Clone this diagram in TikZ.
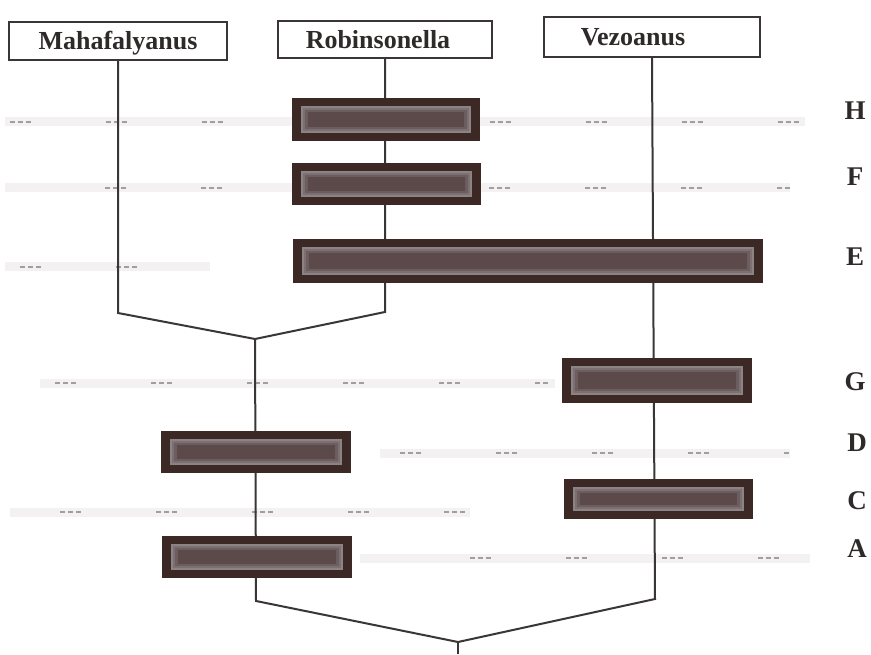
\documentclass[tikz,border=0pt]{standalone}
\usepackage{fontspec}
\setmainfont{Liberation Serif}
\definecolor{linec}{HTML}{3A3636}
\definecolor{textc}{HTML}{2E2A2A}
\definecolor{barout}{HTML}{3C2926}
\definecolor{barl1}{HTML}{8C8385}
\definecolor{barl2}{HTML}{7C7072}
\definecolor{barl3}{HTML}{6C5D5E}
\definecolor{barl4}{HTML}{5C4949}
\definecolor{rowc}{HTML}{A09E9E}
\definecolor{bandc}{HTML}{F3F1F1}
\begin{document}
\begin{tikzpicture}[x=1pt,y=-1pt,
  ln/.style={draw=linec,line width=2pt,line join=miter},
  taxon/.style={draw=linec,line width=2.2pt,fill=white,inner sep=0},
  ttext/.style={font=\fontsize{26}{28}\selectfont\bfseries,text=textc,inner sep=0,anchor=base},
  lvl/.style={font=\fontsize{27}{30}\selectfont\bfseries,text=textc,inner sep=0,anchor=base},
  row/.style={draw=rowc,line width=1.6pt,dash pattern=on 5pt off 3pt on 5pt off 3pt on 5pt off 75pt},
  band/.style={draw=bandc,line width=9pt},
  inset/.style args={#1/#2/#3}{insert path={
      \pgfextra{\fill[#3] ([xshift=#1,yshift=-#2]path picture bounding box.north west)
        rectangle ([xshift=-#1,yshift=#2]path picture bounding box.south east);}}},
  ratebar/.style={fill=barout,inner sep=0,
    path picture={
      \fill[barl1] ([xshift=9pt,yshift=-8pt]path picture bounding box.north west)
        rectangle ([xshift=-9pt,yshift=8pt]path picture bounding box.south east);
      \fill[barl2] ([xshift=11pt,yshift=-10pt]path picture bounding box.north west)
        rectangle ([xshift=-11pt,yshift=10pt]path picture bounding box.south east);
      \fill[barl3] ([xshift=13pt,yshift=-12pt]path picture bounding box.north west)
        rectangle ([xshift=-13pt,yshift=12pt]path picture bounding box.south east);
      \fill[barl4] ([xshift=16pt,yshift=-14pt]path picture bounding box.north west)
        rectangle ([xshift=-16pt,yshift=14pt]path picture bounding box.south east);
    }},
]
\useasboundingbox[fill=white] (0,0) rectangle (871,655);

% faint level rows
\draw[band] (5,122) -- (805,122);
\draw[row]  (10,122) -- (805,122);
\draw[band] (5,188) -- (790,188);
\draw[row]  (105,188) -- (790,188);
\draw[band] (5,267) -- (210,267);
\draw[row]  (20,267) -- (200,267);
\draw[band] (40,383) -- (555,383);
\draw[row]  (55,383) -- (550,383);
\draw[band] (380,453) -- (790,453);
\draw[row]  (400,453) -- (790,453);
\draw[band] (10,512) -- (470,512);
\draw[row]  (60,512) -- (470,512);
\draw[band] (360,558) -- (810,558);
\draw[row]  (470,558) -- (810,558);

% taxon boxes
\node[taxon,minimum width=218pt,minimum height=38pt] (maha)  at (118,41) {};
\node[taxon,minimum width=214pt,minimum height=37pt] (robin) at (385,39.5) {};
\node[taxon,minimum width=216pt,minimum height=40pt] (vezo)  at (652,37) {};
\node[ttext] (mahat)  at (118,49.5) {Mahafalyanus};
\node[ttext] (robint) at (378,48.5) {Robinsonella};
\node[ttext] (vezot)  at (633,45.5) {Vezoanus};

% joins
\coordinate (j1l) at (118,313);
\coordinate (j1)  at (255,339);
\coordinate (j1r) at (385,312);
\coordinate (j2l) at (256,601);
\coordinate (j2)  at (458,642);
\coordinate (j2r) at (655,599);
\coordinate (root) at (458,654);

\draw[ln] (maha.south) -- (j1l) -- (j1) -- (j1r) -- (robin.south);
\draw[ln] (j1) -- (j2l) -- (j2) -- (j2r) -- (vezo.south);
\draw[ln] (j2) -- (root);

% rate bars
\node[ratebar,minimum width=188pt,minimum height=43pt] (H) at (386,119.5) {};
\node[ratebar,minimum width=189pt,minimum height=42pt] (F) at (386.5,184) {};
\node[ratebar,minimum width=470pt,minimum height=44pt] (E) at (528,261) {};
\node[ratebar,minimum width=190pt,minimum height=45pt] (G) at (657,380.5) {};
\node[ratebar,minimum width=190pt,minimum height=42pt] (D) at (256,452) {};
\node[ratebar,minimum width=189pt,minimum height=40pt] (C) at (658.5,499) {};
\node[ratebar,minimum width=190pt,minimum height=42pt] (A) at (257,557) {};

% level labels
\node[lvl] (lH) at (855,120) {H};
\node[lvl] (lF) at (855,186) {F};
\node[lvl] (lE) at (855,266) {E};
\node[lvl] (lG) at (855,391) {G};
\node[lvl] (lD) at (857,451) {D};
\node[lvl] (lC) at (857,509) {C};
\node[lvl] (lA) at (857,557) {A};
\end{tikzpicture}
\end{document}
